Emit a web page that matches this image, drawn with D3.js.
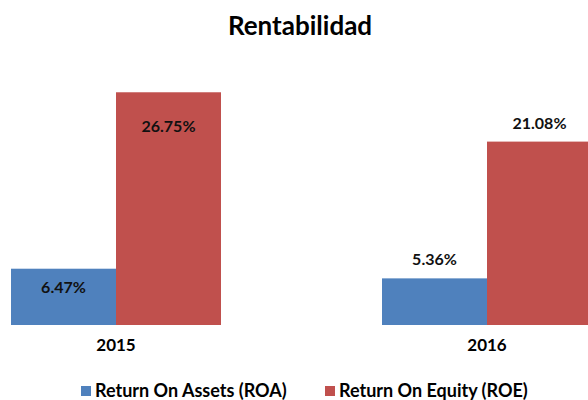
<!DOCTYPE html>
<html>
<head>
<meta charset="utf-8">
<script src="https://cdn.jsdelivr.net/npm/d3@7"></script>
<style>
  html, body { margin: 0; padding: 0; background: #fff; }
  svg { display: block; font-family: Lato, "Open Sans", sans-serif; }
</style>
</head>
<body>
<svg id="chart" width="588" height="400"></svg>
<script>
const title = "Rentabilidad";
const categories = ["2015", "2016"];
const seriesNames = ["Return On Assets (ROA)", "Return On Equity (ROE)"];
const roa = [6.47, 5.36];
const roe = [26.75, 21.08];
const colors = ["#4F81BD", "#C0504D"];

const svg = d3.select("#chart");

const data = categories.map((c, i) => ({ cat: c, vals: [roa[i], roe[i]] }));

const x0 = d3.scaleBand().domain(categories).range([-69.5, 672.5])
  .paddingInner(0.434).paddingOuter(0.217);
const x1 = d3.scaleBand().domain([0, 1]).range([0, x0.bandwidth()]).padding(0);
const y = d3.scaleLinear().domain([0, 30]).range([325, 64]);

svg.append("text")
  .attr("x", 300).attr("y", 35)
  .attr("text-anchor", "middle")
  .attr("font-size", 26).attr("font-weight", 700).attr("fill", "#000")
  .text(title);

const g = svg.selectAll("g.cat").data(data).join("g")
  .attr("class", "cat")
  .attr("transform", d => `translate(${x0(d.cat)},0)`);

g.selectAll("rect").data(d => d.vals.map((v, k) => ({ v, k })))
  .join("rect")
  .attr("x", d => x1(d.k))
  .attr("width", x1.bandwidth())
  .attr("y", d => y(d.v))
  .attr("height", d => y(0) - y(d.v))
  .attr("fill", d => colors[d.k]);

// data labels: 2015 inside end, 2016 outside end
g.each(function(d, ci) {
  d3.select(this).selectAll("text.lbl").data(d.vals.map((v, k) => ({ v, k })))
    .join("text")
    .attr("class", "lbl")
    .attr("x", e => x1(e.k) + x1.bandwidth() / 2)
    .attr("y", e => ci === 0 ? y(e.v) + (e.k === 0 ? 24 : 40) : y(e.v) - 13)
    .attr("text-anchor", "middle")
    .attr("font-size", 16).attr("font-weight", 700).attr("fill", "#111")
    .text(e => e.v.toFixed(2) + "%");
});

// category axis labels
const xAxis = d3.axisBottom(x0).tickSize(0).tickPadding(0);
const ax = svg.append("g").attr("transform", "translate(0,339)").call(xAxis);
ax.select(".domain").remove();
ax.selectAll("text").attr("font-size", 17).attr("font-weight", 700)
  .attr("fill", "#000").attr("font-family", "Lato, sans-serif");

// legend
const legendX = [81, 325];
const lg = svg.selectAll("g.leg").data(seriesNames).join("g")
  .attr("class", "leg")
  .attr("transform", (d, i) => `translate(${legendX[i]},386)`);
lg.append("rect").attr("width", 10).attr("height", 10).attr("fill", (d, i) => colors[i]);
lg.append("text").attr("x", 14).attr("y", 10.5)
  .attr("font-size", 18).attr("font-weight", 700).attr("fill", "#000")
  .text(d => d);
</script>
</body>
</html>
